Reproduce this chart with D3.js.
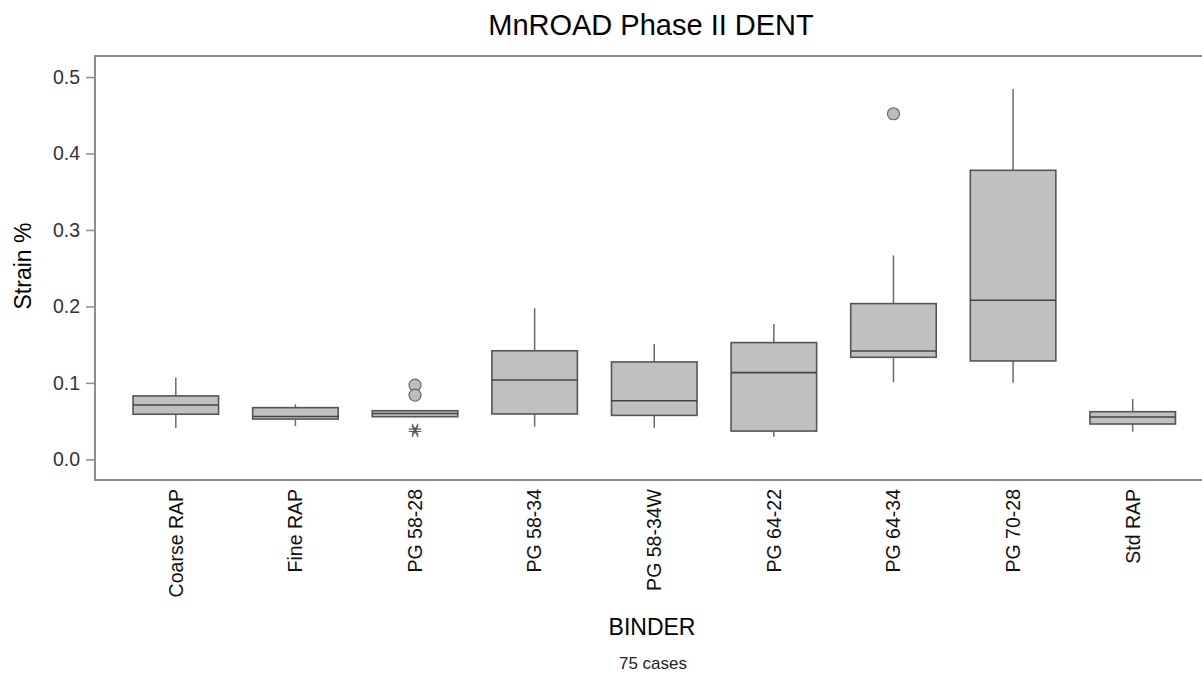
<!DOCTYPE html>
<html>
<head>
<meta charset="utf-8">
<script src="https://cdn.jsdelivr.net/npm/d3@7"></script>
<style>
  body { margin: 0; background: #fff; }
  svg { display: block; font-family: "Liberation Sans", Arial, sans-serif; }
</style>
</head>
<body>
<div id="chart"></div>
<script>
// box summaries, one entry per binder
var binders = ["Coarse RAP", "Fine RAP", "PG 58-28", "PG 58-34", "PG 58-34W", "PG 64-22", "PG 64-34", "PG 70-28", "Std RAP"]
var whiskerLow  = [0.041, 0.0436, 0.055, 0.0427, 0.0414, 0.0296, 0.101, 0.1003, 0.0361]
var q1          = [0.059, 0.0527, 0.0558, 0.0593, 0.0575, 0.037, 0.1335, 0.1287, 0.0462]
var median      = [0.071, 0.056, 0.060, 0.1038, 0.0767, 0.1134, 0.1418, 0.208, 0.0554]
var q3          = [0.083, 0.0676, 0.0636, 0.142, 0.1274, 0.1527, 0.2037, 0.378, 0.0623]
var whiskerHigh = [0.107, 0.072, 0.0645, 0.1976, 0.151, 0.177, 0.2666, 0.4843, 0.079]

// unusual points
var outlierBinder = ["PG 58-28", "PG 58-28", "PG 64-34"]
var outlierValue  = [0.097, 0.084, 0.452]
var extremeBinder = ["PG 58-28", "PG 58-28"]
var extremeValue  = [0.0365, 0.0395]

var yTicks = [0, 0.1, 0.2, 0.3, 0.4, 0.5]

var W = 1202, H = 677
var plotLeft = 95, plotTop = 56, plotBottom = 480, plotRight = 1215

var svg = d3.select("#chart").append("svg")
  .attr("width", W)
  .attr("height", H)

var x = d3.scaleBand()
  .domain(binders)
  .range([116, 1192.5])

var y = d3.scaleLinear()
  .domain([-0.027, 0.5275])
  .range([plotBottom, plotTop])

var boxW = x.bandwidth() * 0.715
function cx(b) { return x(b) + x.bandwidth() / 2 }

// frame
svg.append("path")
  .attr("d", "M" + plotRight + "," + plotTop + "H" + plotLeft + "V" + plotBottom + "H" + plotRight)
  .attr("fill", "none")
  .attr("stroke", "#8c8c8c")
  .attr("stroke-width", 2)

// y axis
var yAxis = svg.append("g")
  .attr("transform", "translate(" + plotLeft + ",0)")
  .call(d3.axisLeft(y).tickValues(yTicks).tickFormat(d3.format(".1f")).tickSize(9).tickPadding(6))
yAxis.select(".domain").remove()
yAxis.selectAll("line").attr("stroke", "#8c8c8c").attr("stroke-width", 1.5)
yAxis.selectAll("text")
  .attr("fill", "#333")
  .style("font-size", "19.5px")
  .style("font-family", "'Liberation Sans', Arial, sans-serif")

// x axis, rotated labels, no ticks
var xAxis = svg.append("g")
  .attr("transform", "translate(0," + plotBottom + ")")
  .call(d3.axisBottom(x).tickSize(0).tickPadding(0))
xAxis.select(".domain").remove()
xAxis.selectAll("text")
  .attr("fill", "#111")
  .style("font-size", "19.5px")
  .style("font-family", "'Liberation Sans', Arial, sans-serif")
  .attr("text-anchor", "end")
  .attr("transform", "translate(0,9) rotate(-90)")
  .attr("x", 0)
  .attr("y", 0)
  .attr("dy", "0.35em")

var idx = d3.range(binders.length)

// whiskers
var g = svg.append("g")
g.selectAll(".wlo")
  .data(idx).enter().append("line")
  .attr("x1", function(i) { return cx(binders[i]) })
  .attr("x2", function(i) { return cx(binders[i]) })
  .attr("y1", function(i) { return y(q1[i]) })
  .attr("y2", function(i) { return y(whiskerLow[i]) })
  .attr("stroke", "#6a6a6a").attr("stroke-width", 1.5)
g.selectAll(".whi")
  .data(idx).enter().append("line")
  .attr("x1", function(i) { return cx(binders[i]) })
  .attr("x2", function(i) { return cx(binders[i]) })
  .attr("y1", function(i) { return y(q3[i]) })
  .attr("y2", function(i) { return y(whiskerHigh[i]) })
  .attr("stroke", "#6a6a6a").attr("stroke-width", 1.5)

// boxes
g.selectAll(".box")
  .data(idx).enter().append("rect")
  .attr("x", function(i) { return cx(binders[i]) - boxW / 2 })
  .attr("y", function(i) { return y(q3[i]) })
  .attr("width", boxW)
  .attr("height", function(i) { return y(q1[i]) - y(q3[i]) })
  .attr("fill", "#c0c0c0")
  .attr("stroke", "#555")
  .attr("stroke-width", 1.6)

// medians
g.selectAll(".med")
  .data(idx).enter().append("line")
  .attr("x1", function(i) { return cx(binders[i]) - boxW / 2 })
  .attr("x2", function(i) { return cx(binders[i]) + boxW / 2 })
  .attr("y1", function(i) { return y(median[i]) })
  .attr("y2", function(i) { return y(median[i]) })
  .attr("stroke", "#444").attr("stroke-width", 1.6)

// outliers
g.selectAll(".out")
  .data(d3.range(outlierValue.length)).enter().append("circle")
  .attr("cx", function(i) { return cx(outlierBinder[i]) })
  .attr("cy", function(i) { return y(outlierValue[i]) })
  .attr("r", 6)
  .attr("fill", "#bdbdbd")
  .attr("stroke", "#6a6a6a")
  .attr("stroke-width", 1.2)

// extreme points drawn as asterisks
var star = d3.symbol().type(d3.symbolAsterisk).size(110)
g.selectAll(".ext")
  .data(d3.range(extremeValue.length)).enter().append("path")
  .attr("transform", function(i) { return "translate(" + cx(extremeBinder[i]) + "," + y(extremeValue[i]) + ") rotate(90)" })
  .attr("d", star)
  .attr("fill", "none")
  .attr("stroke", "#555")
  .attr("stroke-width", 1.1)

// titles
svg.append("text")
  .attr("x", 651).attr("y", 35)
  .attr("text-anchor", "middle")
  .style("font-size", "29px")
  .attr("fill", "#000")
  .text("MnROAD Phase II DENT")

svg.append("text")
  .attr("x", 652).attr("y", 635)
  .attr("text-anchor", "middle")
  .style("font-size", "23px")
  .attr("fill", "#000")
  .text("BINDER")

svg.append("text")
  .attr("x", 653).attr("y", 669)
  .attr("text-anchor", "middle")
  .style("font-size", "17px")
  .attr("fill", "#222")
  .text("75 cases")

svg.append("text")
  .attr("transform", "translate(31,266) rotate(-90)")
  .attr("text-anchor", "middle")
  .style("font-size", "23px")
  .attr("fill", "#000")
  .text("Strain %")
</script>
</body>
</html>
